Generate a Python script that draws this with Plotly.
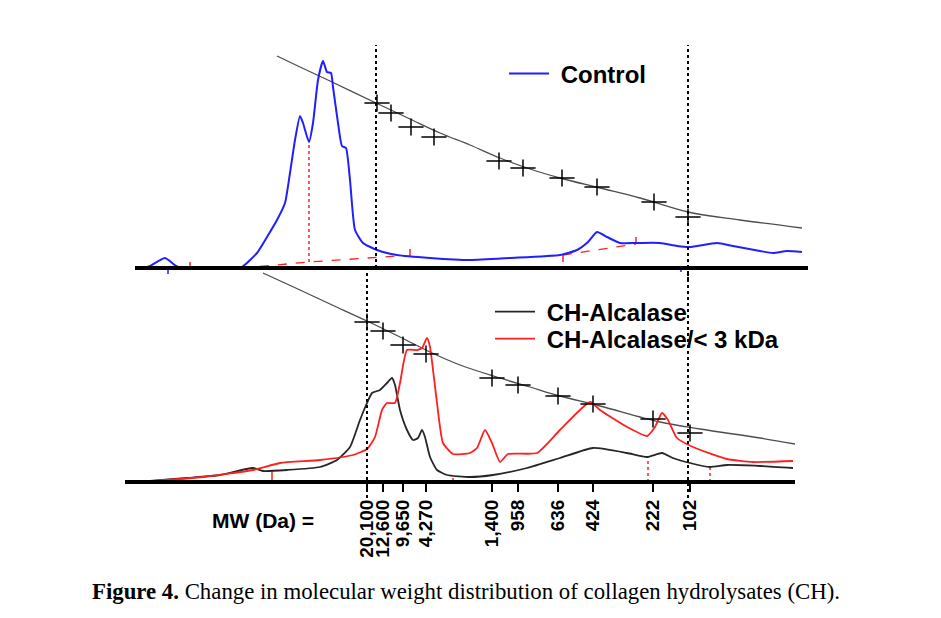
import plotly.graph_objects as go

W, H = 941, 618

# ---------------- data ----------------
# elution position (arbitrary units) and detector response (arbitrary units)
control_x = [135, 145, 150, 165, 176, 182, 195, 215, 232, 242, 257, 267, 277, 285, 290, 295, 300, 303,
             309, 313, 318, 323, 327, 331, 333, 338, 342, 346, 350, 355, 363, 377, 397, 430, 470, 510,
             560, 577, 588, 597, 607, 620, 637, 660, 677, 690, 717, 733, 760, 773, 787, 802]
control_y = [0, 0, 2, 10, 2, 0, 0, 0, 0, 1, 15, 31, 48, 65, 95, 128, 152, 145,
             126, 145, 188, 207, 196, 195, 181, 145, 122, 120, 88, 38, 25, 18, 13, 10, 8, 10,
             13, 18, 26, 36, 31, 25, 25, 25, 22, 21, 25, 22, 17, 15, 17, 16]

alc_x = [150, 187, 220, 253, 263, 287, 320, 337, 350, 360, 367, 372, 380, 387, 392, 395, 400, 407,
         413, 418, 422, 425, 430, 437, 447, 470, 493, 527, 560, 593, 627, 647, 662, 673, 690, 710,
         727, 760, 793]
alc_y = [1, 4, 7, 14, 11, 12, 15, 22, 35, 62, 79, 89, 92, 99, 104, 97, 72, 52,
         42, 44, 52, 45, 25, 12, 7, 5, 7, 14, 24, 34, 29, 25, 29, 24, 19, 15,
         17, 16, 14]

alc3_x = [153, 203, 253, 280, 320, 353, 367, 375, 382, 387, 395, 400, 407, 417, 422, 427, 430, 437,
          443, 453, 470, 477, 485, 492, 500, 508, 537, 560, 590, 600, 627, 647, 655, 662, 668, 677,
          693, 727, 753, 793]
alc3_y = [1, 5, 12, 19, 22, 27, 33, 45, 72, 79, 79, 99, 132, 132, 134, 144, 135, 79,
          39, 28, 29, 34, 52, 39, 20, 28, 29, 52, 80, 72, 55, 46, 55, 69, 62, 44,
          35, 23, 20, 21]

# calibration curves (log MW fit) and MW standards
cal_top_x = [277, 300, 330, 376, 410, 440, 470, 500, 530, 560, 600, 640, 688, 740, 802]
cal_top_y = [212, 201, 187, 165, 149, 135, 123, 110, 99, 90, 80, 70, 56, 48, 40]
std_top_x = [377, 391, 411, 434, 499, 523, 562, 597, 654, 688]
std_top_y = [165, 155, 141, 131, 107, 100, 90, 81, 66, 51]

cal_bot_x = [263, 300, 330, 367, 400, 430, 460, 500, 530, 560, 600, 660, 700, 760, 795]
cal_bot_y = [209, 192, 178, 161, 145, 130, 117, 104, 95, 86, 76, 60, 53, 44, 38]
std_bot_x = [367, 383, 403, 426, 492, 518, 558, 593, 653, 690]
std_bot_y = [160, 151, 137, 128, 104, 97, 86, 78, 63, 49]

mw_labels = ["20,100", "12,600", "9,650", "4,270", "1,400", "958", "636", "424", "222", "102"]

# exclusion / inclusion limits
limit_top_x = [376, 688]
limit_bot_x = [367, 688]

# peak integration marks
top_drop_x = [309, 309]
top_drop_y = [6, 126]
top_base_x = [242, 309, 397, None, 563, 636]
top_base_y = [0, 6, 12, None, 13, 24]
top_tick_x = [190, 190, None, 410, 410, None, 563, 563, None, 636, 636]
top_tick_y = [0, 6, None, 11, 19, None, 6, 13, None, 25, 31]
top_blue_tick_x = [168, 168, None, 681, 681]
top_blue_tick_y = [-2, -6, None, -1, -4]
bot_tick_x = [272, 272, None, 453, 453]
bot_tick_y = [2, 12, None, 0, 4]
bot_drop_x = [648, 648, None, 710, 710]
bot_drop_y = [0, 23, None, 0, 17]

# ---------------- figure ----------------
fig = go.Figure()

BLUE = "#1f1fff"
RED = "#ff1f1f"
GRAY = "#4d4d4d"
NB = "\u00a0"


def add(x, y, ax, **kw):
    xa, ya = ("x", "y") if ax == 1 else ("x2", "y2")
    kw.setdefault("showlegend", False)
    fig.add_trace(go.Scatter(x=x, y=y, xaxis=xa, yaxis=ya, mode="lines",
                             hoverinfo="skip", **kw))


def crosses(x, y, ax):
    xa, ya = ("x", "y") if ax == 1 else ("x2", "y2")
    for sym, size in (("line-ew", 18), ("line-ns", 12)):
        fig.add_trace(go.Scatter(x=x, y=y, xaxis=xa, yaxis=ya, mode="markers",
                                 showlegend=False, hoverinfo="skip",
                                 marker=dict(symbol=sym, size=size,
                                             line=dict(color="black", width=1.5))))


SM = 0.5

# top panel
add(cal_top_x, cal_top_y, 1, line=dict(color=GRAY, width=1.3, shape="spline", smoothing=1))
add(top_base_x, top_base_y, 1, line=dict(color=RED, width=1.3, dash="dash"))
add(top_drop_x, top_drop_y, 1, line=dict(color=RED, width=1.5, dash="dot"))
add(top_tick_x, top_tick_y, 1, line=dict(color=RED, width=1.5))
add(top_blue_tick_x, top_blue_tick_y, 1, line=dict(color=BLUE, width=1.5))
add(control_x, control_y, 1, name=NB + "Control", showlegend=True, legend="legend",
    line=dict(color=BLUE, width=2, shape="spline", smoothing=SM))
add([limit_top_x[0], limit_top_x[0]], [0, 223], 1, line=dict(color="black", width=2, dash="dot"))
add([limit_top_x[1], limit_top_x[1]], [-12, 223], 1, line=dict(color="black", width=2, dash="dot"))
crosses(std_top_x, std_top_y, 1)

# bottom panel
add(cal_bot_x, cal_bot_y, 2, line=dict(color=GRAY, width=1.3, shape="spline", smoothing=1))
add(bot_tick_x, bot_tick_y, 2, line=dict(color=RED, width=1.5))
add(bot_drop_x, bot_drop_y, 2, line=dict(color=RED, width=1.5, dash="dot"))
add(alc_x, alc_y, 2, name=NB + "CH-Alcalase", showlegend=True, legend="legend2",
    line=dict(color="#262626", width=1.8, shape="spline", smoothing=SM))
add(alc3_x, alc3_y, 2, name=NB + "CH-Alcalase/< 3 kDa", showlegend=True, legend="legend3",
    line=dict(color=RED, width=1.8, shape="spline", smoothing=SM))
add([limit_bot_x[0], limit_bot_x[0]], [-16, 212], 2, line=dict(color="black", width=2, dash="dot"))
add([limit_bot_x[1], limit_bot_x[1]], [-16, 212], 2, line=dict(color="black", width=2, dash="dot"))
crosses(std_bot_x, std_bot_y, 2)


def py(p):
    return 1 - p / H


legend_font = dict(family="Liberation Sans, Arial, sans-serif", size=24, color="black", weight="bold")


def leg(xp, yp):
    return dict(x=xp / W, y=py(yp), xanchor="left", yanchor="middle", bgcolor="rgba(0,0,0,0)",
                font=legend_font, itemwidth=40)


fig.update_layout(
    width=W, height=H,
    margin=dict(l=0, r=0, t=0, b=0),
    paper_bgcolor="white", plot_bgcolor="rgba(0,0,0,0)",
    xaxis=dict(domain=[135 / W, 808 / W], range=[135, 808], anchor="free", position=py(268),
               showline=True, linewidth=4, linecolor="black", ticks="", showticklabels=False,
               showgrid=False, zeroline=False, fixedrange=True),
    yaxis=dict(domain=[py(280), py(38)], range=[-12, 230], visible=False, fixedrange=True),
    xaxis2=dict(domain=[125 / W, 795 / W], range=[125, 795], anchor="free", position=py(482),
                showline=True, linewidth=4, linecolor="black", ticks="outside", ticklen=8,
                tickwidth=2, tickcolor="black", tickvals=std_bot_x,
                ticktext=["<b>%s</b>" % t for t in mw_labels], tickangle=-90,
                tickfont=dict(family="Liberation Sans, Arial, sans-serif", size=19, color="black"),
                showgrid=False, zeroline=False, fixedrange=True),
    yaxis2=dict(domain=[py(498), py(272)], range=[-16, 210], visible=False, fixedrange=True),
    legend=leg(504, 74),
    legend2=leg(490, 312),
    legend3=leg(490, 339),
    annotations=[
        dict(text="<b>MW (Da) =</b>", xref="paper", yref="paper", x=210 / W, y=py(520),
             xanchor="left", yanchor="middle", showarrow=False,
             font=dict(family="Liberation Sans, Arial, sans-serif", size=21, color="black")),
        dict(text="<b>Figure 4.</b> Change in molecular weight distribution of collagen hydrolysates (CH).",
             xref="paper", yref="paper", x=90 / W, y=py(591), xanchor="left", yanchor="middle",
             showarrow=False,
             font=dict(family="Liberation Serif, Times New Roman, serif", size=22.8, color="black")),
    ],
)

fig.write_html("out.html")
